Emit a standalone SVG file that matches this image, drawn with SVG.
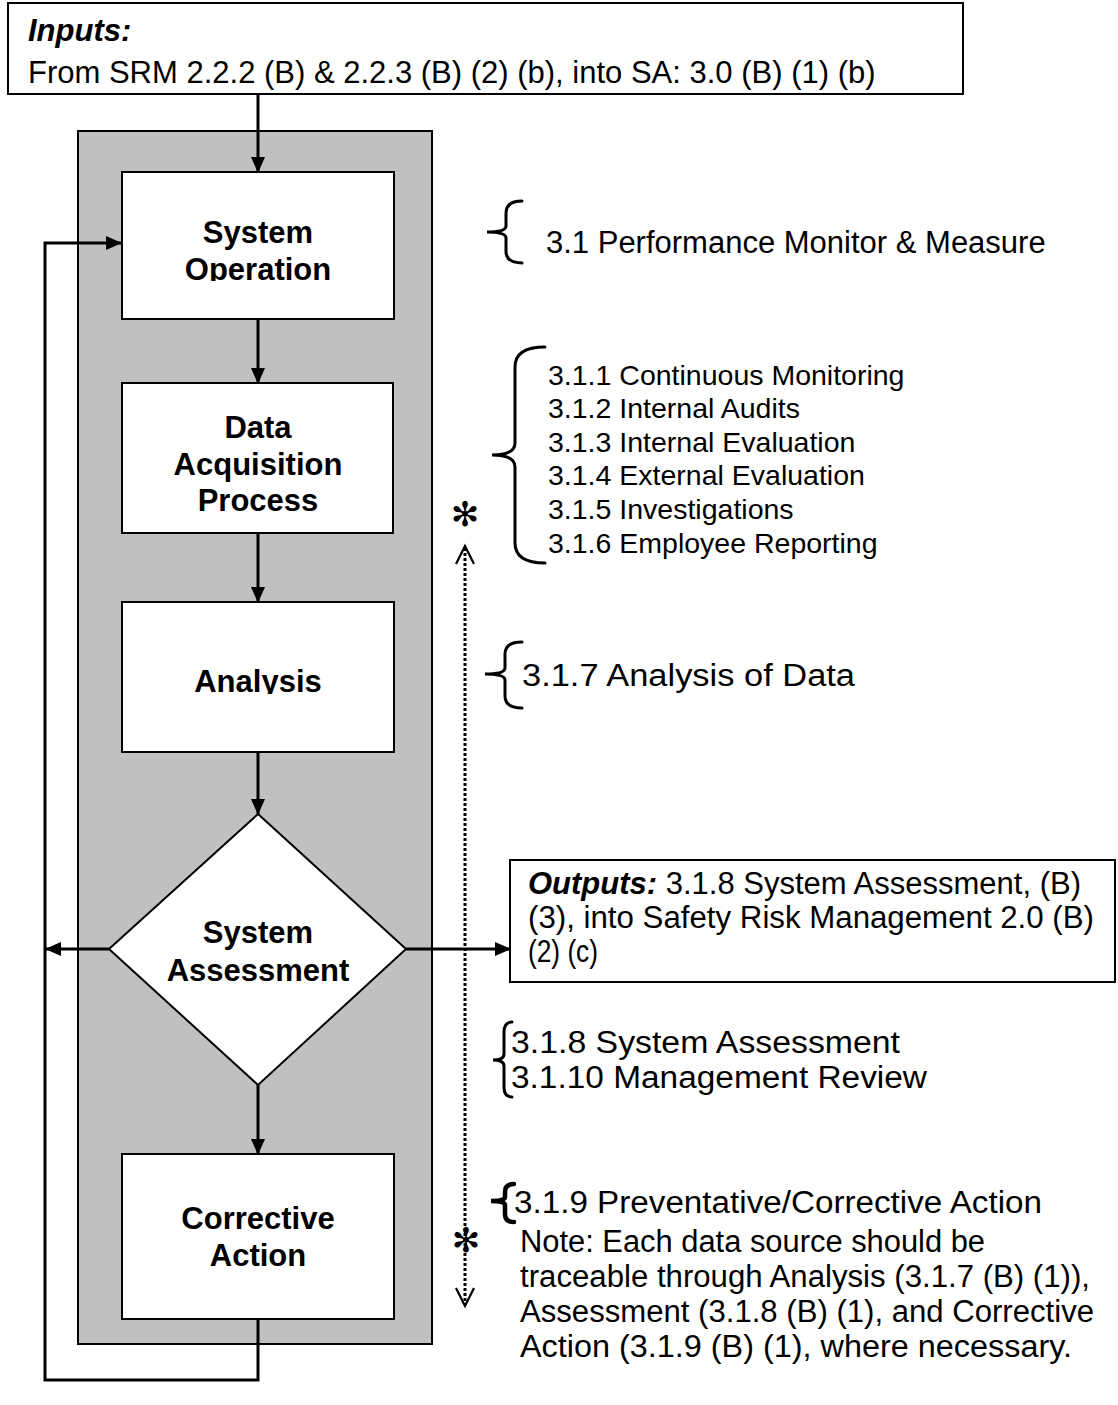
<svg xmlns="http://www.w3.org/2000/svg" width="1118" height="1405" viewBox="0 0 1118 1405">
  <style>
    .box{fill:#fff;stroke:#000;stroke-width:2}
    .panel{fill:#c0c0c0;stroke:#000;stroke-width:2}
    .lbl{font-family:"Liberation Sans",Arial,sans-serif;font-weight:bold;font-size:31px;text-anchor:middle;fill:#000}
    .txt{font-family:"Liberation Sans",Arial,sans-serif;font-size:31px;fill:#000}
    .lst{font-family:"Liberation Sans",Arial,sans-serif;font-size:28.5px;fill:#000}
    .nar{font-family:"Liberation Sans",Arial,sans-serif;font-size:31px;fill:#000}
    .bi{font-weight:bold;font-style:italic}
    .conn{fill:none;stroke:#000;stroke-width:3}
    .brace{fill:none;stroke:#000;stroke-width:3;stroke-linecap:round}
    .dot{fill:none;stroke:#000;stroke-width:3;stroke-dasharray:3 2}
    .chev{fill:none;stroke:#000;stroke-width:2.2}
    .ast{font-family:"DejaVu Sans",sans-serif;font-size:34px;text-anchor:middle;fill:#000}
  </style>
  <defs>
    <marker id="arr" markerUnits="userSpaceOnUse" markerWidth="16" markerHeight="16" viewBox="0 0 16 16" refX="15" refY="8" orient="auto">
      <path d="M0,1 L16,8 L0,15 Z" fill="#000"/>
    </marker>
    <clipPath id="clipOp"><rect x="122" y="172" width="272" height="109"/></clipPath>
    <clipPath id="clipAn"><rect x="122" y="602" width="272" height="92"/></clipPath>
  </defs>

  <!-- background panel behind the process chain -->
  <rect class="panel" x="78" y="131" width="354" height="1213"/>

  <g id="inputs">
    <rect class="box" x="8" y="3" width="955" height="91"/>
    <text class="txt bi" x="28" y="41" font-size="30">Inputs:</text>
    <text class="txt" x="28" y="83">From SRM 2.2.2 (B) &amp; 2.2.3 (B) (2) (b), into SA: 3.0 (B) (1) (b)</text>
  </g>

  <g id="system-operation">
    <rect class="box" x="122" y="172" width="272" height="147"/>
    <g clip-path="url(#clipOp)">
      <text class="lbl" x="258" y="243">System</text>
      <text class="lbl" x="258" y="280">Operation</text>
    </g>
  </g>

  <g id="data-acquisition">
    <rect class="box" x="122" y="383" width="271" height="150"/>
    <text class="lbl" x="258" y="438">Data</text>
    <text class="lbl" x="258" y="475">Acquisition</text>
    <text class="lbl" x="258" y="511">Process</text>
  </g>

  <g id="analysis">
    <rect class="box" x="122" y="602" width="272" height="150"/>
    <g clip-path="url(#clipAn)">
      <text class="lbl" x="258" y="692">Analysis</text>
    </g>
  </g>

  <g id="system-assessment">
    <polygon class="box" points="258,814 406,949 258,1085 109,949"/>
    <text class="lbl" x="258" y="943">System</text>
    <text class="lbl" x="258" y="981">Assessment</text>
  </g>

  <g id="corrective-action">
    <rect class="box" x="122" y="1154" width="272" height="165"/>
    <text class="lbl" x="258" y="1229">Corrective</text>
    <text class="lbl" x="258" y="1266">Action</text>
  </g>

  <g id="outputs">
    <rect class="box" x="510" y="860" width="605" height="122"/>
    <text class="nar" x="528" y="894"><tspan class="bi">Outputs:</tspan> 3.1.8 System Assessment, (B)</text>
    <text class="nar" x="528" y="928" textLength="566" lengthAdjust="spacingAndGlyphs">(3), into Safety Risk Management 2.0 (B)</text>
    <text class="nar" x="528" y="962" textLength="70" lengthAdjust="spacingAndGlyphs">(2) (c)</text>
  </g>

  <g id="connectors">
    <line class="conn" x1="258" y1="94" x2="258" y2="172" marker-end="url(#arr)"/>
    <line class="conn" x1="258" y1="319" x2="258" y2="383" marker-end="url(#arr)"/>
    <line class="conn" x1="258" y1="533" x2="258" y2="602" marker-end="url(#arr)"/>
    <line class="conn" x1="258" y1="752" x2="258" y2="814" marker-end="url(#arr)"/>
    <line class="conn" x1="258" y1="1085" x2="258" y2="1154" marker-end="url(#arr)"/>
    <line class="conn" x1="109" y1="949" x2="46" y2="949" marker-end="url(#arr)"/>
    <line class="conn" x1="406" y1="949" x2="510" y2="949" marker-end="url(#arr)"/>
    <path class="conn" d="M258,1319 V1380 H45 V243 H121" marker-end="url(#arr)"/>
  </g>

  <!-- dotted traceability line with open heads -->
  <g id="trace">
    <line class="dot" x1="465" y1="548" x2="465" y2="1304"/>
    <polyline class="chev" points="456,564 465,546 474,564"/>
    <polyline class="chev" points="456,1288 465,1306 474,1288"/>
    <text class="ast" x="465" y="526">✻</text>
    <text class="ast" x="466" y="1252">✻</text>
  </g>

  <g id="annotations">
    <path class="brace" d="M522,201 Q506,201 506,213 L506,226 Q506,232 487,232 Q506,232 506,238 L506,251 Q506,263 522,263"/>
    <text class="txt" x="546" y="253" font-size="31">3.1 Performance Monitor &amp; Measure</text>

    <path class="brace" d="M545,347 Q515,347 515,367 L515,443 Q515,455 492,455 Q515,455 515,467 L515,543 Q515,563 545,563"/>
    <text class="lst" x="548" y="385">3.1.1 Continuous Monitoring</text>
    <text class="lst" x="548" y="418">3.1.2 Internal Audits</text>
    <text class="lst" x="548" y="452">3.1.3 Internal Evaluation</text>
    <text class="lst" x="548" y="485">3.1.4 External Evaluation</text>
    <text class="lst" x="548" y="519">3.1.5 Investigations</text>
    <text class="lst" x="548" y="553">3.1.6 Employee Reporting</text>

    <path class="brace" d="M522,642 Q505,642 505,654 L505,668 Q505,674 485,674 Q505,674 505,680 L505,696 Q505,708 522,708"/>
    <text class="nar" x="522" y="686" textLength="333" lengthAdjust="spacingAndGlyphs">3.1.7 Analysis of Data</text>

    <path class="brace" d="M512,1022 Q504,1022 504,1032 L504,1054 Q504,1060 493,1060 Q504,1060 504,1066 L504,1087 Q504,1097 512,1097"/>
    <text class="nar" x="511" y="1053" textLength="389" lengthAdjust="spacingAndGlyphs">3.1.8 System Assessment</text>
    <text class="nar" x="511" y="1088" textLength="416" lengthAdjust="spacingAndGlyphs">3.1.10 Management Review</text>

    <path class="brace" d="M514,1184 Q505,1184 505,1192 L505,1197 Q505,1201 491,1201 Q505,1201 505,1205 L505,1214 Q505,1222 514,1222" style="stroke-width:4.5"/>
    <text class="nar" x="514" y="1213" textLength="528" lengthAdjust="spacingAndGlyphs">3.1.9 Preventative/Corrective Action</text>

    <text class="nar" x="520" y="1252" textLength="465" lengthAdjust="spacingAndGlyphs">Note: Each data source should be</text>
    <text class="nar" x="520" y="1287" textLength="570" lengthAdjust="spacingAndGlyphs">traceable through Analysis (3.1.7 (B) (1)),</text>
    <text class="nar" x="520" y="1322" textLength="574" lengthAdjust="spacingAndGlyphs">Assessment (3.1.8 (B) (1), and Corrective</text>
    <text class="nar" x="520" y="1357" textLength="552" lengthAdjust="spacingAndGlyphs">Action (3.1.9 (B) (1), where necessary.</text>
  </g>
</svg>
